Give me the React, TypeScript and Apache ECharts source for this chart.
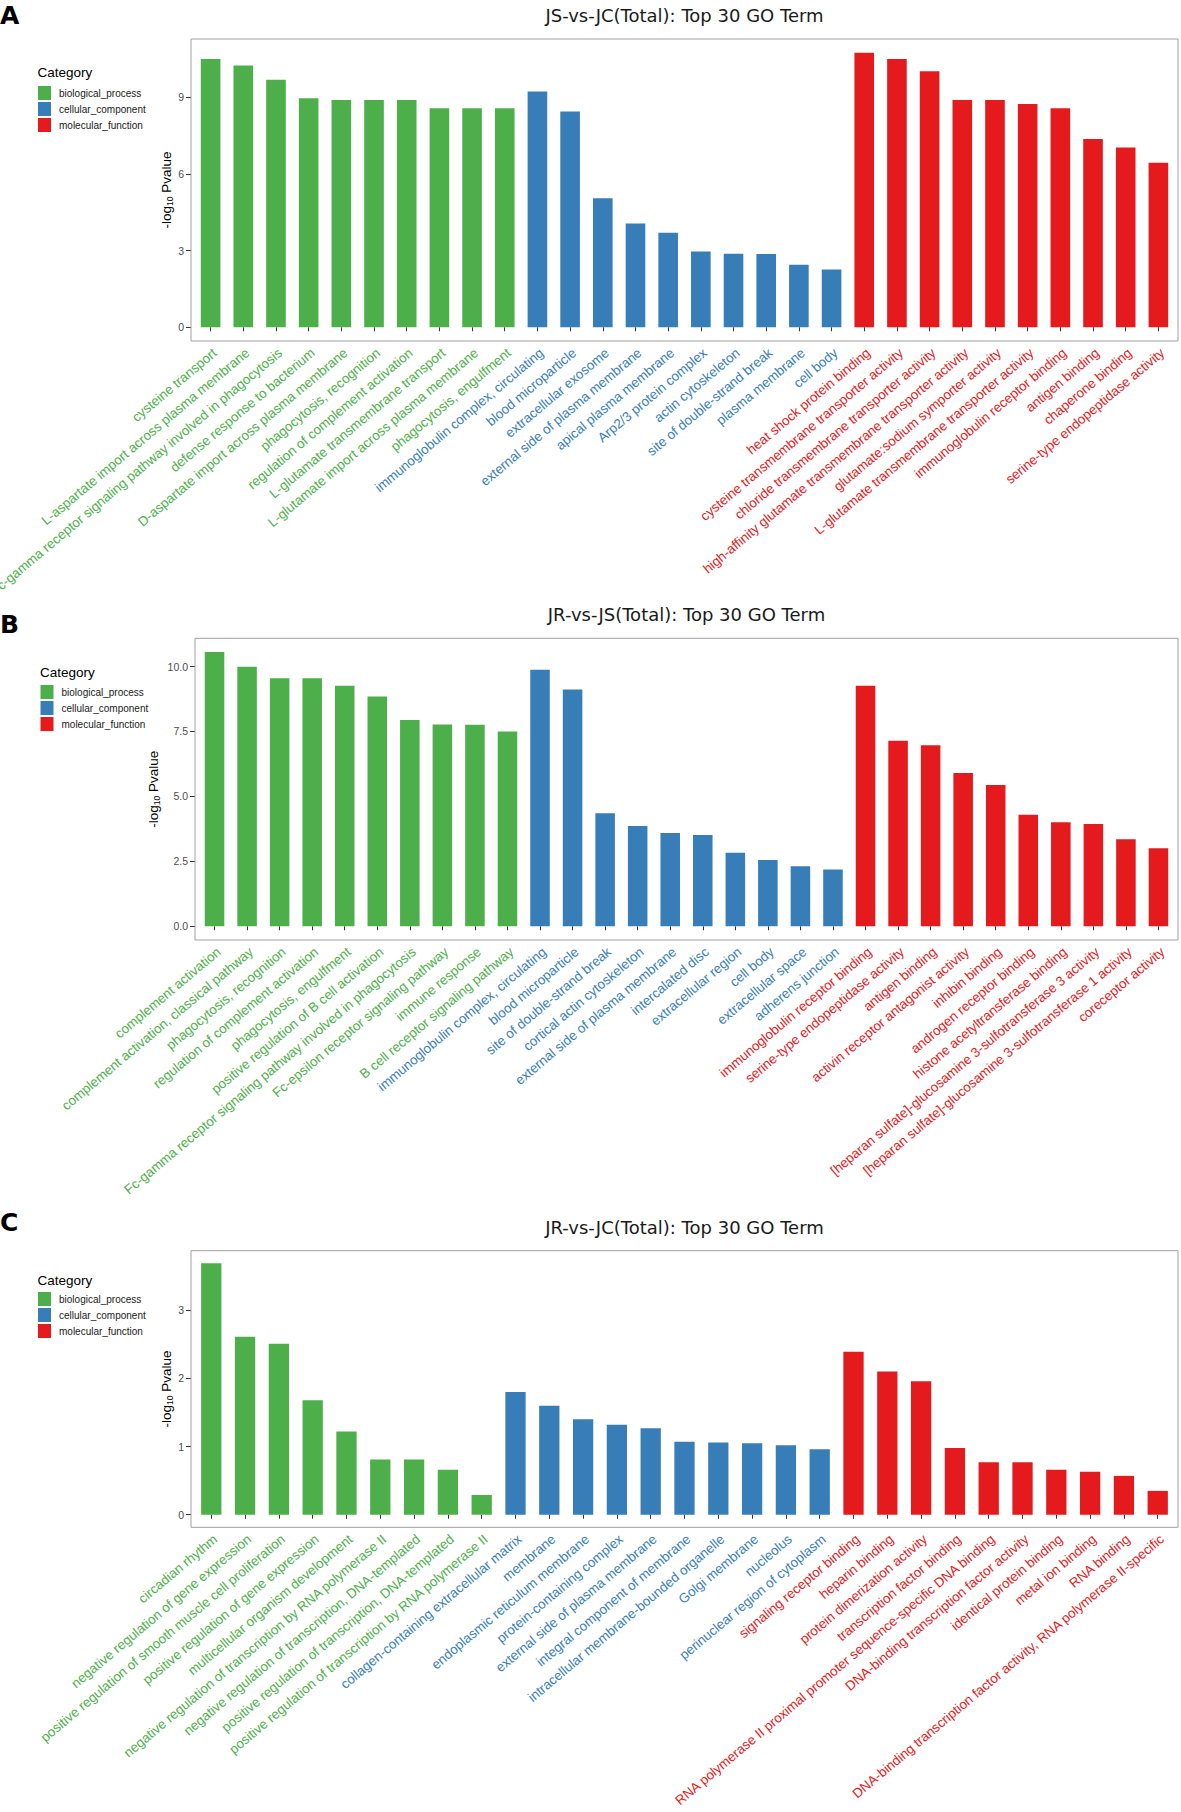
import React, { useEffect, useRef } from "react";
import * as echarts from "echarts";

// ---------- data ----------
const CATEGORY_NAMES = ["biological_process", "cellular_component", "molecular_function"];

const bpA = ["cysteine transport", "L-aspartate import across plasma membrane", "Fc-gamma receptor signaling pathway involved in phagocytosis", "defense response to bacterium", "D-aspartate import across plasma membrane", "phagocytosis, recognition", "regulation of complement activation", "L-glutamate transmembrane transport", "L-glutamate import across plasma membrane", "phagocytosis, engulfment"];
const bpAValues = [10.5, 10.25, 9.69, 8.97, 8.9, 8.9, 8.9, 8.58, 8.58, 8.58];
const ccA = ["immunoglobulin complex, circulating", "blood microparticle", "extracellular exosome", "external side of plasma membrane", "apical plasma membrane", "Arp2/3 protein complex", "actin cytoskeleton", "site of double-strand break", "plasma membrane", "cell body"];
const ccAValues = [9.23, 8.45, 5.05, 4.06, 3.7, 2.97, 2.88, 2.87, 2.45, 2.26];
const mfA = ["heat shock protein binding", "cysteine transmembrane transporter activity", "chloride transmembrane transporter activity", "high-affinity glutamate transmembrane transporter activity", "glutamate:sodium symporter activity", "L-glutamate transmembrane transporter activity", "immunoglobulin receptor binding", "antigen binding", "chaperone binding", "serine-type endopeptidase activity"];
const mfAValues = [10.75, 10.5, 10.02, 8.9, 8.9, 8.74, 8.58, 7.37, 7.04, 6.44];
const ticksA = [0, 3, 6, 9];

const bpB = ["complement activation", "complement activation, classical pathway", "phagocytosis, recognition", "regulation of complement activation", "phagocytosis, engulfment", "positive regulation of B cell activation", "Fc-gamma receptor signaling pathway involved in phagocytosis", "Fc-epsilon receptor signaling pathway", "immune response", "B cell receptor signaling pathway"];
const bpBValues = [10.56, 9.99, 9.55, 9.55, 9.26, 8.85, 7.94, 7.77, 7.76, 7.5];
const ccB = ["immunoglobulin complex, circulating", "blood microparticle", "site of double-strand break", "cortical actin cytoskeleton", "external side of plasma membrane", "intercalated disc", "extracellular region", "cell body", "extracellular space", "adherens junction"];
const ccBValues = [9.88, 9.12, 4.35, 3.86, 3.59, 3.51, 2.83, 2.55, 2.31, 2.19];
const mfB = ["immunoglobulin receptor binding", "serine-type endopeptidase activity", "antigen binding", "activin receptor antagonist activity", "inhibin binding", "androgen receptor binding", "histone acetyltransferase binding", "[heparan sulfate]-glucosamine 3-sulfotransferase 3 activity", "[heparan sulfate]-glucosamine 3-sulfotransferase 1 activity", "coreceptor activity"];
const mfBValues = [9.26, 7.14, 6.97, 5.9, 5.44, 4.29, 4.01, 3.94, 3.35, 3.0];
const ticksB = [0, 2.5, 5, 7.5, 10];

const bpC = ["circadian rhythm", "negative regulation of gene expression", "positive regulation of smooth muscle cell proliferation", "positive regulation of gene expression", "multicellular organism development", "negative regulation of transcription by RNA polymerase II", "negative regulation of transcription, DNA-templated", "positive regulation of transcription, DNA-templated", "positive regulation of transcription by RNA polymerase II"];
const bpCValues = [3.69, 2.61, 2.51, 1.68, 1.22, 0.81, 0.81, 0.66, 0.29];
const ccC = ["collagen-containing extracellular matrix", "membrane", "endoplasmic reticulum membrane", "protein-containing complex", "external side of plasma membrane", "integral component of membrane", "intracellular membrane-bounded organelle", "Golgi membrane", "nucleolus", "perinuclear region of cytoplasm"];
const ccCValues = [1.8, 1.6, 1.4, 1.32, 1.27, 1.07, 1.06, 1.05, 1.02, 0.96];
const mfC = ["signaling receptor binding", "heparin binding", "protein dimerization activity", "transcription factor binding", "RNA polymerase II proximal promoter sequence-specific DNA binding", "DNA-binding transcription factor activity", "identical protein binding", "metal ion binding", "RNA binding", "DNA-binding transcription factor activity, RNA polymerase II-specific"];
const mfCValues = [2.39, 2.1, 1.96, 0.98, 0.77, 0.77, 0.66, 0.63, 0.57, 0.35];
const ticksC = [0, 1, 2, 3];

// ---------- styling / layout ----------
const COLORS = ["#4DAF4A", "#377EB8", "#E41A1C"];
const SANS = "'Liberation Sans', Arial, sans-serif";
const TITLE_FONT = "'DejaVu Sans', sans-serif";

const PANELS = [
  { letter: "A", title: "JS-vs-JC(Total): Top 30 GO Term", groups: [[bpA, bpAValues], [ccA, ccAValues], [mfA, mfAValues]], ticks: ticksA, decimals: 0,
    left: 191, right: 1178, top: 39, bottom: 341, titleY: 15, letterY: 15.5, catX: 37.5, catY: 72.7, legendX: 38, legendY: 86, yTitleX: 166.5 },
  { letter: "B", title: "JR-vs-JS(Total): Top 30 GO Term", groups: [[bpB, bpBValues], [ccB, ccBValues], [mfB, mfBValues]], ticks: ticksB, decimals: 1,
    left: 195, right: 1178, top: 638.3, bottom: 940, titleY: 614.5, letterY: 624, catX: 40, catY: 672.7, legendX: 40.5, legendY: 685, yTitleX: 153 },
  { letter: "C", title: "JR-vs-JC(Total): Top 30 GO Term", groups: [[bpC, bpCValues], [ccC, ccCValues], [mfC, mfCValues]], ticks: ticksC, decimals: 0,
    left: 191, right: 1178, top: 1250.7, bottom: 1527.3, titleY: 1227, letterY: 1222, catX: 37.5, catY: 1280, legendX: 38, legendY: 1292, yTitleX: 166.5 },
];

function buildOption() {
  const grid: any[] = [];
  const xAxis: any[] = [];
  const yAxis: any[] = [];
  const series: any[] = [];
  const legend: any[] = [];
  const graphic: any[] = [];

  PANELS.forEach((p, i) => {
    const cats: string[] = [];
    const vals: number[] = [];
    const catIdx: number[] = [];
    p.groups.forEach(([names, values], k) => {
      (names as string[]).forEach((n, j) => {
        cats.push(n);
        vals.push((values as number[])[j]);
        catIdx.push(k);
      });
    });
    const n = cats.length;
    const unit = (p.right - p.left) / (n + 0.2);
    const inset = 0.1 * unit;
    const maxV = Math.max(...vals);

    grid.push({
      left: p.left + inset, width: n * unit, top: p.top, height: p.bottom - p.top,
      containLabel: false, outerBoundsMode: "none",
    });

    xAxis.push({
      type: "category", gridIndex: i, data: cats,
      axisLine: { show: false },
      axisTick: { show: true, alignWithLabel: true, length: 4, lineStyle: { color: "#333" } },
      axisLabel: {
        interval: 0, rotate: 40, align: "right", verticalAlign: "top", margin: 5,
        fontSize: 13.4, fontFamily: SANS, hideOverlap: false,
        color: (_v: any, idx: number) => COLORS[catIdx[idx]],
      },
      splitLine: { show: false },
    });

    yAxis.push({
      type: "value", gridIndex: i,
      min: -0.05 * maxV, max: 1.05 * maxV,
      offset: inset,
      axisLine: { show: false },
      splitLine: { show: false },
      axisTick: { show: true, length: 5, customValues: p.ticks, lineStyle: { color: "#333" } },
      axisLabel: {
        customValues: p.ticks, fontSize: 10.5, color: "#4d4d4d", margin: 7, fontFamily: SANS,
        formatter: (v: number) => v.toFixed(p.decimals),
      },
    });

    CATEGORY_NAMES.forEach((name, k) => {
      series.push({
        type: "bar", name, xAxisIndex: i, yAxisIndex: i, stack: "p" + i,
        barWidth: "60%",
        itemStyle: { color: COLORS[k] },
        data: vals.map((v, j) => (catIdx[j] === k ? v : "-")),
      });
    });

    legend.push({
      orient: "vertical", left: p.legendX, top: p.legendY, padding: 0,
      itemWidth: 13, itemHeight: 14, itemGap: 2, icon: "rect",
      selectedMode: false, data: CATEGORY_NAMES,
      textStyle: { fontSize: 10, fontFamily: SANS, color: "#1a1a1a", padding: [0, 0, 0, 3] },
    });

    // frame
    graphic.push({
      type: "rect", silent: true,
      shape: { x: p.left, y: p.top, width: p.right - p.left, height: p.bottom - p.top },
      style: { fill: "none", stroke: "#a0a0a0", lineWidth: 1 },
      z: 10,
    });
    // title
    graphic.push({
      type: "text", x: (p.left + p.right) / 2, y: p.titleY,
      style: { text: p.title, font: `18px ${TITLE_FONT}`, fill: "#1a1a1a", textAlign: "center", textVerticalAlign: "middle" },
    });
    // panel letter
    graphic.push({
      type: "text", x: 0, y: p.letterY,
      style: { text: p.letter, font: `bold 25px 'DejaVu Sans', sans-serif`, fill: "#000", textAlign: "left", textVerticalAlign: "middle" },
    });
    // legend title
    graphic.push({
      type: "text", x: p.catX, y: p.catY,
      style: { text: "Category", font: `13.5px ${SANS}`, fill: "#000", textAlign: "left", textVerticalAlign: "middle" },
    });
    // y-axis title
    graphic.push({
      type: "text", x: p.yTitleX, y: (p.top + p.bottom) / 2, rotation: Math.PI / 2,
      style: {
        text: "{a|-log}{b|10}{a| Pvalue}",
        textAlign: "center", textVerticalAlign: "middle",
        rich: {
          a: { fontSize: 13.5, fontFamily: SANS, fill: "#000", lineHeight: 16, verticalAlign: "middle" },
          b: { fontSize: 8.5, fontFamily: SANS, fill: "#000", lineHeight: 16, verticalAlign: "bottom", padding: [4, 0, 0, 0] },
        },
      },
    });
  });

  return {
    animation: false,
    backgroundColor: "#ffffff",
    grid, xAxis, yAxis, series, legend, graphic,
  };
}

export default function App() {
  const ref = useRef<HTMLDivElement>(null);
  useEffect(() => {
    if (!ref.current) return;
    const chart = echarts.init(ref.current, undefined, { renderer: "svg" });
    chart.setOption(buildOption() as any);
    return () => chart.dispose();
  }, []);
  return (
    <div
      ref={ref}
      style={{ position: "absolute", left: 0, top: 0, width: 1181, height: 1812, background: "#fff" }}
    />
  );
}
